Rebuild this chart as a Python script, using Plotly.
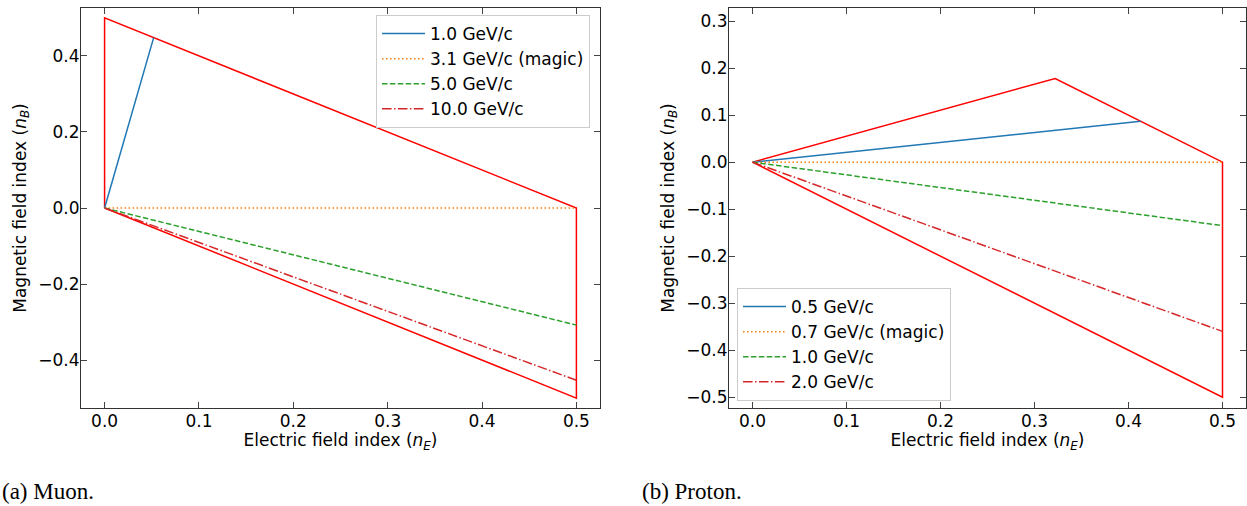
import plotly.graph_objects as go

# ---------------- data ----------------
muon_labels = ["1.0 GeV/c", "3.1 GeV/c (magic)", "5.0 GeV/c", "10.0 GeV/c"]
muon_x = [[0.0, 0.052], [0.0, 0.5], [0.0, 0.5], [0.0, 0.5]]
muon_y = [[0.0, 0.448], [0.0, 0.0], [0.0, -0.308], [0.0, -0.453]]
muon_bound_x = [0.0, 0.0, 0.5, 0.5, 0.0]
muon_bound_y = [0.0, 0.5, 0.0, -0.5, 0.0]

proton_labels = ["0.5 GeV/c", "0.7 GeV/c (magic)", "1.0 GeV/c", "2.0 GeV/c"]
proton_x = [[0.0, 0.413], [0.0, 0.5], [0.0, 0.5], [0.0, 0.5]]
proton_y = [[0.0, 0.087], [0.0, 0.0], [0.0, -0.135], [0.0, -0.36]]
proton_bound_x = [0.0, 0.322, 0.5, 0.5, 0.0]
proton_bound_y = [0.0, 0.178, 0.0, -0.5, 0.0]

x_ticks = [0.0, 0.1, 0.2, 0.3, 0.4, 0.5]
muon_y_ticks = [-0.4, -0.2, 0.0, 0.2, 0.4]
proton_y_ticks = [-0.5, -0.4, -0.3, -0.2, -0.1, 0.0, 0.1, 0.2, 0.3]

captions = ["(a) Muon.", "(b) Proton."]

# ---------------- style ----------------
colors = ["#1f77b4", "#ff7f0e", "#2ca02c", "#d62728"]
dashes = ["solid", "1.5px,2.5px", "5.5px,2.4px", "9.6px,2.4px,1.5px,2.4px"]
FONT = "DejaVu Sans"
FS = 17
W, H = 1247, 506

fig = go.Figure()

def add_panel(xs, ys, labels, bx, by, xa, ya, legend):
    fig.add_trace(go.Scatter(x=bx, y=by, mode="lines", line=dict(color="red", width=1.5),
                             showlegend=False, xaxis=xa, yaxis=ya, hoverinfo="skip"))
    for i, lab in enumerate(labels):
        fig.add_trace(go.Scatter(x=xs[i], y=ys[i], mode="lines", name=lab,
                                 line=dict(color=colors[i], width=1.5, dash=dashes[i]),
                                 xaxis=xa, yaxis=ya, legend=legend))

add_panel(muon_x, muon_y, muon_labels, muon_bound_x, muon_bound_y, "x", "y", "legend")
add_panel(proton_x, proton_y, proton_labels, proton_bound_x, proton_bound_y, "x2", "y2", "legend2")

def px_x(p):
    return p / W

def px_y(p):
    return 1 - p / H

axis_common = dict(showline=True, linecolor="#333333", linewidth=1.2, mirror="ticks",
                   ticks="inside", ticklen=6, tickwidth=1.2, tickcolor="#444444",
                   showgrid=False, zeroline=False, tickformat=".1f", ticklabelstandoff=-3,
                   tickfont=dict(family=FONT, size=FS, color="black"))

xtitle = dict(text="Electric field index (<i>n</i><sub><i>E</i></sub>)",
              font=dict(family=FONT, size=FS, color="black"), standoff=0)
ytitle = dict(text="Magnetic field index (<i>n</i><sub><i>B</i></sub>)",
              font=dict(family=FONT, size=FS, color="black"), standoff=7)

legend_common = dict(bgcolor="rgba(255,255,255,0.85)", bordercolor="#cccccc", borderwidth=1,
                     font=dict(family=FONT, size=FS, color="black"), tracegroupgap=0,
                     itemwidth=43)

fig.update_layout(
    width=W, height=H,
    margin=dict(l=0, r=0, t=0, b=0),
    paper_bgcolor="white", plot_bgcolor="white",
    font=dict(family=FONT, size=FS, color="black"),
    xaxis=dict(domain=[px_x(81), px_x(600)], range=[-0.025, 0.525], tickvals=x_ticks,
               anchor="y", title=xtitle, **axis_common),
    yaxis=dict(domain=[px_y(408), px_y(8)], range=[-0.526, 0.526], tickvals=muon_y_ticks,
               anchor="x", title=ytitle, **axis_common),
    xaxis2=dict(domain=[px_x(729), px_x(1246)], range=[-0.025, 0.525], tickvals=x_ticks,
                anchor="y2", title=xtitle, **axis_common),
    yaxis2=dict(domain=[px_y(408), px_y(8)], range=[-0.523, 0.328], tickvals=proton_y_ticks,
                anchor="x2", title=ytitle, **axis_common),
    legend=dict(x=px_x(590), y=px_y(15), xanchor="right", yanchor="top", **legend_common),
    legend2=dict(x=px_x(737), y=px_y(401), xanchor="left", yanchor="bottom", **legend_common),
    showlegend=True,
)

fig.add_annotation(text=captions[0], x=px_x(0), y=px_y(491), xref="paper", yref="paper",
                   xanchor="left", yanchor="middle", showarrow=False,
                   font=dict(family="Liberation Serif", size=23, color="black"))
fig.add_annotation(text=captions[1], x=px_x(640), y=px_y(491), xref="paper", yref="paper",
                   xanchor="left", yanchor="middle", showarrow=False,
                   font=dict(family="Liberation Serif", size=23, color="black"))

fig.write_html("out.html")
